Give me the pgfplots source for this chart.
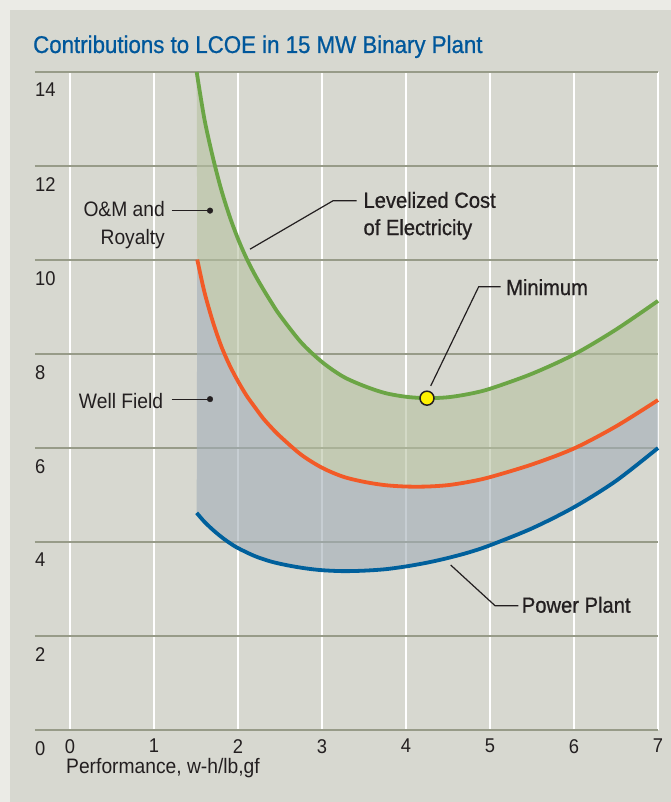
\documentclass[border=0pt]{standalone}
\usepackage{fontspec}
\setmainfont[FakeStretch=0.92]{Liberation Sans}
\newfontfamily\labfont[FakeStretch=0.92,FakeBold=0.8]{Liberation Sans}
\usepackage{pgfplots}
\usepackage{pgfplotstable}
\pgfplotsset{compat=1.18}
\usepgfplotslibrary{fillbetween}

\definecolor{outerbg}{HTML}{EBEBE6}
\definecolor{panel}{HTML}{D7D8D0}
\definecolor{hgrid}{HTML}{979B88}
\definecolor{titleblue}{HTML}{00579B}
\definecolor{txt}{HTML}{231F20}
\definecolor{lcoe}{HTML}{6BA545}
\definecolor{wellc}{HTML}{F25A27}
\definecolor{plantc}{HTML}{00609C}
\definecolor{omfill}{HTML}{B6C1A1}
\definecolor{wffill}{HTML}{A2AEB7}
\definecolor{minyel}{HTML}{FFF200}

% Levelized cost of electricity (top curve)
\pgfplotstableread{
x y
1.508 14.00
1.60 13.00
1.70 12.19
1.80 11.50
1.90 10.93
2.00 10.45
2.10 10.04
2.20 9.69
2.30 9.38
2.40 9.09
2.50 8.82
2.75 8.25
3.00 7.83
3.25 7.52
3.50 7.32
3.75 7.17
4.00 7.09
4.25 7.06
4.50 7.08
4.75 7.15
5.00 7.26
5.50 7.58
6.00 7.99
6.50 8.52
7.00 9.13
}\lcoetab

% Power plant + well field
\pgfplotstableread{
x y
1.515 10.01
1.60 9.32
1.70 8.69
1.80 8.17
1.90 7.76
2.00 7.42
2.10 7.12
2.20 6.87
2.30 6.63
2.40 6.43
2.50 6.25
2.75 5.86
3.00 5.58
3.25 5.39
3.50 5.28
3.75 5.21
4.00 5.18
4.25 5.18
4.50 5.21
4.75 5.28
5.00 5.38
5.50 5.65
6.00 5.99
6.50 6.46
7.00 7.02
}\welltab

% Power plant
\pgfplotstableread{
x y
1.508 4.62
1.60 4.43
1.70 4.26
1.80 4.11
1.90 3.98
2.00 3.87
2.20 3.70
2.40 3.58
2.60 3.50
2.80 3.44
3.00 3.40
3.25 3.38
3.50 3.39
3.75 3.42
4.00 3.48
4.25 3.56
4.50 3.66
4.75 3.78
5.00 3.93
5.50 4.29
6.00 4.74
6.50 5.30
7.00 6.00
}\planttab

\begin{document}
\begin{tikzpicture}
\fill[outerbg] (0bp,0bp) rectangle (671bp,802bp);
\fill[panel] (10bp,0bp) rectangle (671bp,792bp);

\node[anchor=base west, inner sep=0pt, text=titleblue,
      font=\labfont\fontsize{24.3}{28}\selectfont] at (33bp,749bp)
      {Contributions to LCOE in 15 MW Binary Plant};
\node[anchor=base west, inner sep=0pt, text=txt,
      font=\fontsize{21}{25}\selectfont] at (66bp,29bp)
      {Performance, w-h/lb,gf};

\begin{axis}[
    at={(70bp,72bp)}, anchor=south west,
    scale only axis, width=588bp, height=658bp,
    xmin=0, xmax=7, ymin=0, ymax=14,
    axis line style={draw=none},
    major tick length=0pt,
    xtick={0,...,7}, ytick={0,2,...,14},
    clip=false,
    fill between/on layer=main,
    /pgf/number format/assume math mode=true,
    ticklabel style={font=\fontsize{20}{24}\selectfont, text=txt, inner sep=0pt},
    yticklabel style={anchor=north west, xshift=-35bp, yshift=-11bp},
    xticklabel style={anchor=north, yshift=-9bp},
]
    % grid
    \pgfplotsinvokeforeach{0,...,7}{
        \draw[white, line width=1.8bp] (axis cs:#1,0) -- (axis cs:#1,14);
    }
    \pgfplotsinvokeforeach{0,2,...,14}{
        \draw[hgrid, line width=1.6bp] (axis cs:-0.4167,#1) -- (axis cs:7,#1);
    }

    % annotation texts
    \node[anchor=base east, inner sep=0pt, text=txt, font=\fontsize{21}{25}\selectfont]
        at (axis cs:1.131,10.92) {O\&M and};
    \node[anchor=base east, inner sep=0pt, text=txt, font=\fontsize{21}{25}\selectfont]
        at (axis cs:1.131,10.34) {Royalty};
    \node[anchor=base east, inner sep=0pt, text=txt, font=\fontsize{21}{25}\selectfont]
        at (axis cs:1.111,6.85) {Well Field};
    \node[anchor=base west, inner sep=0pt, text=txt, font=\labfont\fontsize{22}{26}\selectfont]
        at (axis cs:3.492,11.11) {Levelized Cost};
    \node[anchor=base west, inner sep=0pt, text=txt, font=\labfont\fontsize{22}{26}\selectfont]
        at (axis cs:3.492,10.53) {of Electricity};
    \node[anchor=base west, inner sep=0pt, text=txt, font=\labfont\fontsize{22}{26}\selectfont]
        at (axis cs:5.19,9.255) {Minimum};
    \node[anchor=base west, inner sep=0pt, text=txt, font=\labfont\fontsize{22}{26}\selectfont]
        at (axis cs:5.377,2.496) {Power Plant};

    % invisible boundaries for the shaded bands
    \addplot[draw=none, smooth, name path=G] table[x=x,y=y] {\lcoetab};
    \addplot[draw=none, smooth, name path=O] table[x=x,y=y] {\welltab};
    \addplot[draw=none, smooth, name path=B] table[x=x,y=y] {\planttab};
    \addplot[fill=omfill, fill opacity=0.6, draw=none] fill between[of=G and O];
    \addplot[fill=wffill, fill opacity=0.6, draw=none] fill between[of=O and B];

    % curves
    \addplot[lcoe, line width=3.8bp, smooth] table[x=x,y=y] {\lcoetab};
    \addplot[wellc, line width=3.8bp, smooth] table[x=x,y=y] {\welltab};
    \addplot[plantc, line width=3.8bp, smooth] table[x=x,y=y] {\planttab};

    % leader lines
    \draw[txt, line width=1.2bp] (axis cs:1.211,11.05) -- (axis cs:1.667,11.05);
    \draw[txt, line width=1.2bp] (axis cs:1.211,7.04) -- (axis cs:1.667,7.04);
    \draw[txt, line width=1.2bp] (axis cs:2.143,10.23) -- (axis cs:3.131,11.26) -- (axis cs:3.413,11.26);
    \draw[txt, line width=1.2bp] (axis cs:4.294,7.32) -- (axis cs:4.865,9.43) -- (axis cs:5.127,9.43);
    \draw[txt, line width=1.2bp] (axis cs:4.532,3.51) -- (axis cs:5.06,2.645) -- (axis cs:5.337,2.645);

    % dots
    \addplot[only marks, mark=*, mark size=2.8bp, txt] coordinates {(1.667,11.05) (1.667,7.04)};
    \addplot[only marks, mark=*, mark size=7bp,
             mark options={fill=minyel, draw=txt, line width=1.5bp}] coordinates {(4.25,7.06)};
\end{axis}
\end{tikzpicture}
\end{document}
